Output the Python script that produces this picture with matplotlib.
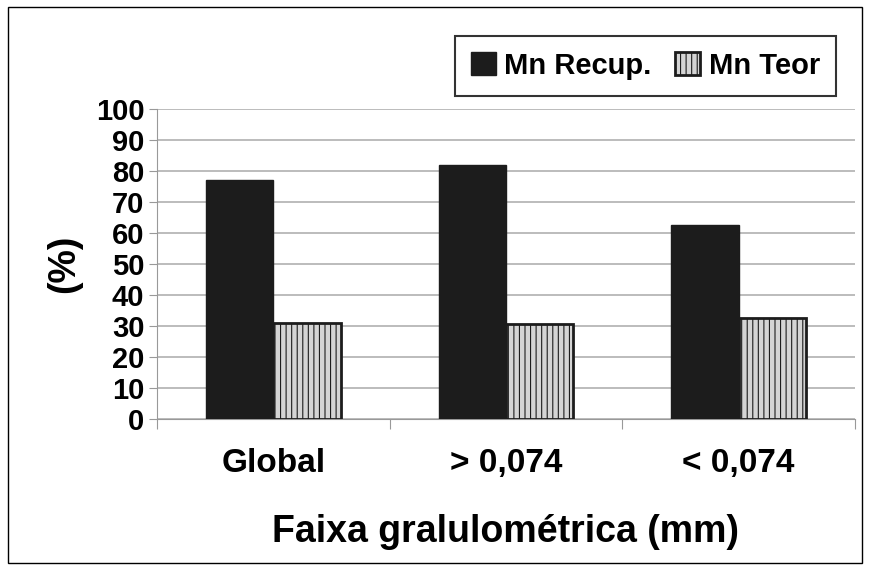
import matplotlib.pyplot as plt
import numpy as np
from matplotlib.patches import Rectangle

plt.rcParams['font.family'] = ['Liberation Sans', 'DejaVu Sans']
plt.rcParams['font.weight'] = 'bold'
plt.rcParams['hatch.color'] = '#999999'
plt.rcParams['hatch.linewidth'] = 0.8

categories = ['Global', '> 0,074', '< 0,074']
mn_recup = [77, 82, 62.5]
mn_teor = [31, 30.5, 32.5]

fig = plt.figure(figsize=(8.7, 5.71), dpi=100)
fig.patches.append(Rectangle((8 / 870, 8 / 571), 854 / 870, 556 / 571, transform=fig.transFigure,
                             fill=False, edgecolor='black', linewidth=1))
ax = fig.add_axes([157 / 870, 152 / 571, 698 / 870, 310 / 571])

x = np.arange(len(categories))
w = 0.29
ax.bar(x - w / 2, mn_recup, w, color='#1c1c1c', edgecolor='#1c1c1c', label='Mn Recup.', zorder=3)
ax.bar(x + w / 2, mn_teor, w, color='#d4d4d4', edgecolor='#1c1c1c', linewidth=2,
       hatch='|||', label='Mn Teor', zorder=3)

ax.set_xlim(-0.5, 2.5)
ax.set_ylim(0, 100)
ax.set_yticks(range(0, 101, 10))
ax.yaxis.grid(True, color='#b0b0b0', linewidth=1.2, zorder=0)
for s in ['top', 'right']:
    ax.spines[s].set_visible(False)
ax.spines['left'].set_color('#999999')
ax.spines['bottom'].set_color('#999999')
ax.set_xticks([-0.5, 0.5, 1.5, 2.5], minor=False)
ax.set_xticklabels([])
ax.set_xticks(x, minor=True)
ax.set_xticklabels(categories, minor=True, fontsize=24, fontweight='bold')
ax.tick_params(axis='x', which='major', length=7, color='#999999')
ax.tick_params(axis='x', which='minor', length=0, pad=21)
ax.tick_params(axis='y', length=6, color='#999999', labelsize=21, pad=3)
for t in ax.get_yticklabels():
    t.set_fontweight('bold')

ax.set_ylabel('(%)', fontsize=27, fontweight='bold', labelpad=10)
ax.set_xlabel('Faixa gralulométrica (mm)', fontsize=27, fontweight='bold', labelpad=25)

leg = ax.legend(loc='lower right', bbox_to_anchor=(836 / 870, 475 / 571), bbox_transform=fig.transFigure,
                ncol=2, frameon=True, fancybox=False, edgecolor='black', borderaxespad=0,
                handlelength=0.85, handleheight=0.85, handletextpad=0.3, columnspacing=0.8,
                borderpad=0.55, prop={'weight': 'bold', 'size': 21})
leg.get_frame().set_linewidth(1.5)

fig.savefig('out.png', dpi=100)
